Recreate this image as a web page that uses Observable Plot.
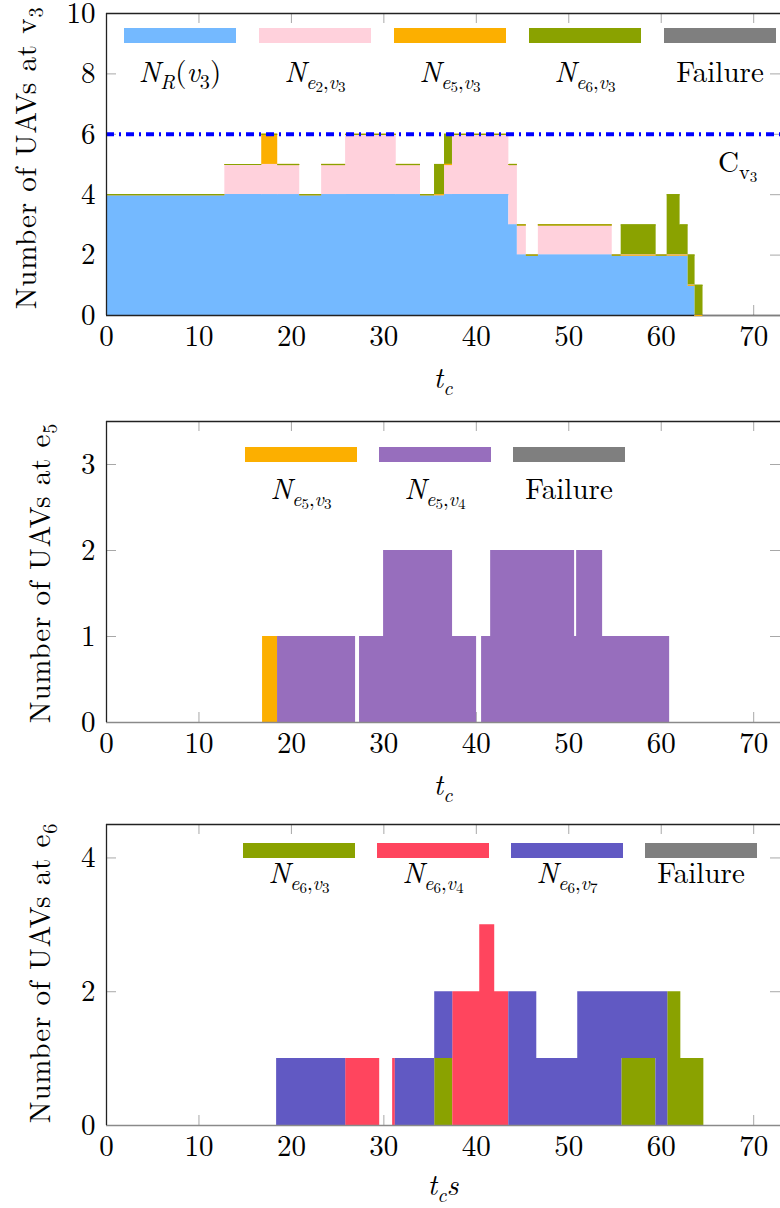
<!DOCTYPE html>
<html><head><meta charset="utf-8">
<script src="https://cdn.jsdelivr.net/npm/d3@7"></script>
<script src="https://cdn.jsdelivr.net/npm/@observablehq/plot@0.6"></script>
<style>
body{margin:0;background:#fff;}
#root{position:relative;width:780px;height:1208px;overflow:hidden;background:#fff;}
#root svg{position:absolute;left:0;}
.sw{position:absolute;height:15px;width:112px;}
</style></head><body><div id="root"></div>
<script>
// ---------- shared ticks ----------
const xTicks = [0, 10, 20, 30, 40, 50, 60, 70];
const yTicks1 = [0, 2, 4, 6, 8, 10];
const yTicks2 = [0, 1, 2, 3];
const yTicks3 = [0, 2, 4];

// ---------- panel 1 : UAVs at v3 ----------
const t1 = [0, 12.8, 16.79, 18.52, 20.9, 23.27, 25.86, 31.34, 33.96, 35.48, 36.56, 37.42, 43.52, 44.44, 45.41, 46.71, 54.7, 55.67, 59.45, 60.64, 62.04, 62.91, 63.66, 64.52, 72.9];
const nR_v3  = [4, 4, 4, 4, 4, 4, 4, 4, 4, 4, 4, 4, 3, 2, 2, 2, 2, 2, 2, 2, 2, 1, 0, 0, 0];
const nE2_v3 = [0, 1, 1, 1, 0, 1, 2, 1, 0, 0, 1, 2, 2, 1, 0, 1, 0, 0, 0, 0, 0, 0, 0, 0, 0];
const nE5_v3 = [0, 0, 1, 0, 0, 0, 0, 0, 0, 0, 0, 0, 0, 0, 0, 0, 0, 0, 0, 0, 0, 0, 0, 0, 0];
const nE6_v3 = [0, 0, 0, 0, 0, 0, 0, 0, 0, 1, 1, 0, 0, 0, 0, 0, 0, 1, 0, 2, 1, 1, 1, 0, 0];
const fail_v3 = [null, null, null, null, null, null, null, null, null, null, null, null, null, null, null, null, null, null, null, null, null, null, null, 0, 0];
const cap_v3 = 6;

// ---------- panel 2 : UAVs at e5 ----------
const t2 = [0, 16.88, 18.5, 26.94, 27.37, 29.97, 37.43, 40.03, 40.57, 41.55, 50.63, 50.85, 53.66, 60.91, 72.9];
const nE5_v3_e = [0, 1, 0, 0, 0, 0, 0, 0, 0, 0, 0, 0, 0, 0, 0];
const nE5_v4_a = [0, 0, 1, 0, 1, 1, 1, 0, 1, 1, 1, 1, 1, 0, 0];
const nE5_v4_b = [0, 0, 0, 0, 0, 1, 0, 0, 0, 1, 0, 1, 0, 0, 0];

// ---------- panel 3 : UAVs at e6 ----------
const t3 = [0, 18.4, 25.87, 29.55, 30.95, 31.24, 35.5, 37.45, 40.37, 41.99, 43.51, 46.54, 50.97, 55.74, 59.42, 60.71, 62.12, 64.61, 72.9];
const nE6_v3_e = [0, 0, 0, 0, 0, 0, 1, 0, 0, 0, 0, 0, 0, 1, 0, 2, 1, 0, 0];
const nE6_v4   = [0, 0, 1, 0, 1, 0, 0, 2, 3, 2, 0, 0, 0, 0, 0, 0, 0, 0, 0];
const nE6_v7   = [0, 1, 0, 0, 0, 1, 1, 0, 0, 0, 2, 1, 2, 1, 2, 0, 0, 0, 0];

// ---------- colours ----------
const cR = "#74b9ff", cE2 = "#ffd1dc", cE5 = "#fcaf00", cE6 = "#8aa200", cFail = "#7f7f7f";
const cV4e5 = "#976ebd", cV4e6 = "#ff455e", cV7 = "#6159c3";

// ---------- label parts: [text, level(0 normal,1 sub,2 subsub), italic] ----------
const Nsub = (a, b) => [["N", 0, 1], ["e", 1, 1], [a, 2, 0], [",", 1, 0], ["v", 1, 1], [b, 2, 0]];
const lblNR = [["N", 0, 1], ["R", 1, 1], ["(", 0, 0], ["v", 0, 1], ["3", 1, 0], [")", 0, 0]];
const lblFail = [["Failure", 0, 0]];
const lblTc = [["t", 0, 1], ["c", 1, 1]];
const lblTcs = [["t", 0, 1], ["c", 1, 1], ["s", 0, 1]];
const lblCap = [["C", 0, 0], ["v", 1, 0], ["3", 2, 0]];
const yTitle = n => [["Number of UAVs at " + n[0], 0, 0], [n[1], 1, 0]];

const root = document.getElementById("root");
const W = 780, ML = 106, XMAX = 72.9, FS = 29;
const FONT = "'Latin Modern Roman','Liberation Serif',serif";

function panel({top, height, marginTop, marginBottom, yMax, yTicks, times, series, edges, bottomColor, extra = []}) {
  const data = [];
  series.forEach(s => s.values.forEach((v, i) => data.push({t: times[i], v, s: s.key, c: s.color})));
  const segs = [];
  if (edges) {
    const cum = times.map(() => 0);
    series.forEach(s => {
      s.values.forEach((v, i) => { if (v != null) cum[i] += v; });
      for (let i = 0; i < times.length - 1; i++) {
        if (s.values[i] == null) continue;
        segs.push({x1: times[i], x2: times[i + 1], y: cum[i], c: s.color});
      }
    });
  }
  const H = height - marginTop - marginBottom, PW = W - ML;
  const tk = {stroke: "#a8a8a8", strokeWidth: 1};
  const svg = Plot.plot({
    width: W, height, marginLeft: ML, marginRight: 0, marginTop, marginBottom,
    style: {fontFamily: FONT, fontSize: FS + "px", background: "transparent", overflow: "visible"},
    x: {domain: [0, XMAX]},
    y: {domain: [0, yMax]},
    color: {type: "identity"},
    marks: [
      Plot.tickX(xTicks, {x: d => d, ...tk, insetTop: H - 10}),
      Plot.tickX(xTicks, {x: d => d, ...tk, insetBottom: H - 10}),
      Plot.tickY(yTicks, {y: d => d, ...tk, insetRight: PW - 10}),
      Plot.tickY(yTicks, {y: d => d, ...tk, insetLeft: PW - 10}),
      Plot.areaY(data, {filter: d => d.v != null, x: "t", y: "v", z: "s", fill: "c", curve: "step-after"}),
      Plot.ruleY([0], {stroke: bottomColor, strokeWidth: 1.3}),
      Plot.ruleY(segs, {x1: "x1", x2: "x2", y: "y", stroke: "c", strokeWidth: 1.2}),
      ...extra,
      Plot.ruleX([0], {stroke: "#222", strokeWidth: 1.3}),
      Plot.ruleY([yMax], {stroke: "#222", strokeWidth: 1.3}),
      Plot.axisX(xTicks, {tickSize: 0, tickPadding: 10, label: null, tickFormat: d => String(d)}),
      Plot.axisY(yTicks, {tickSize: 0, tickPadding: 11, label: null, tickFormat: d => String(d)})
    ]
  });
  svg.style.top = top + "px";
  svg.querySelectorAll("text").forEach(t => { t.style.fontFamily = FONT; t.style.fontSize = FS + "px"; t.style.fill = "#000"; });
  root.appendChild(svg);
}

// overlay svg for math-style labels
const overlay = d3.create("svg").attr("width", W).attr("height", 1208)
  .style("position", "absolute").style("left", "0px").style("top", "0px").style("overflow", "visible");

function mtext(parts, x, y, {anchor = "middle", rotate = false, size = FS, spacing = 0} = {}) {
  const t = overlay.append("text").attr("text-anchor", anchor).attr("fill", "#000")
    .style("font-family", FONT).style("font-size", size + "px");
  if (spacing) t.style("letter-spacing", spacing + "px");
  if (rotate) t.attr("transform", `translate(${x},${y}) rotate(-90)`);
  else t.attr("x", x).attr("y", y);
  const sizes = [size, size * 0.7, size * 0.52];
  const offs = [0, size * 0.23, size * 0.36];
  let cur = 0;
  parts.forEach(([s, lvl, it]) => {
    t.append("tspan").attr("dy", (offs[lvl] - cur).toFixed(2))
      .style("font-family", FONT).style("font-size", sizes[lvl] + "px")
      .style("font-style", it ? "italic" : "normal").text(s);
    cur = offs[lvl];
  });
}

function legend(items, left0, step, top, baseline) {
  items.forEach((it, i) => {
    const l = left0 + i * step;
    const r = document.createElement("div");
    r.className = "sw";
    r.style.left = l + "px";
    r.style.top = top + "px";
    r.style.background = it.color;
    root.appendChild(r);
    mtext(it.label, l + 56, baseline);
  });
}

// panel 1
panel({top: 0, height: 400, marginTop: 13, marginBottom: 85, yMax: 10, yTicks: yTicks1, times: t1, edges: true, bottomColor: "#222",
  series: [
    {key: "R", color: cR, values: nR_v3},
    {key: "e2", color: cE2, values: nE2_v3},
    {key: "e5", color: cE5, values: nE5_v3},
    {key: "e6", color: cE6, values: nE6_v3},
    {key: "fail", color: cFail, values: fail_v3}
  ],
  extra: [Plot.ruleY([cap_v3], {stroke: "#0000ff", strokeWidth: 4, strokeDasharray: "8,5,2,5"})]
});
legend([
  {color: cR, label: lblNR},
  {color: cE2, label: Nsub("2", "3")},
  {color: cE5, label: Nsub("5", "3")},
  {color: cE6, label: Nsub("6", "3")},
  {color: cFail, label: lblFail}
], 124, 135, 28, 82);
mtext(lblCap, 718, 172, {anchor: "start"});
mtext(yTitle(["v", "3"]), 36, 158, {rotate: true, spacing: 0.8});
mtext(lblTc, 443, 388);

// panel 2
panel({top: 400, height: 405, marginTop: 21, marginBottom: 83, yMax: 3.5, yTicks: yTicks2, times: t2, edges: false, bottomColor: "#8a8a8a",
  series: [
    {key: "e5v3", color: cE5, values: nE5_v3_e},
    {key: "e5v4a", color: cV4e5, values: nE5_v4_a},
    {key: "e5v4b", color: cV4e5, values: nE5_v4_b}
  ]
});
legend([
  {color: cE5, label: Nsub("5", "3")},
  {color: cV4e5, label: Nsub("5", "4")},
  {color: cFail, label: lblFail}
], 245, 134, 447, 499);
mtext(yTitle(["e", "5"]), 50, 573, {rotate: true, spacing: 0.8});
mtext(lblTc, 443, 795);

// panel 3
panel({top: 805, height: 403, marginTop: 19, marginBottom: 83, yMax: 4.5, yTicks: yTicks3, times: t3, edges: false, bottomColor: "#8a8a8a",
  series: [
    {key: "e6v3", color: cE6, values: nE6_v3_e},
    {key: "e6v4", color: cV4e6, values: nE6_v4},
    {key: "e6v7", color: cV7, values: nE6_v7}
  ]
});
legend([
  {color: cE6, label: Nsub("6", "3")},
  {color: cV4e6, label: Nsub("6", "4")},
  {color: cV7, label: Nsub("6", "7")},
  {color: cFail, label: lblFail}
], 243, 134, 843, 883);
mtext(yTitle(["e", "6"]), 50, 973, {rotate: true, spacing: 0.8});
mtext(lblTcs, 443, 1195);

root.appendChild(overlay.node());
</script></body></html>
